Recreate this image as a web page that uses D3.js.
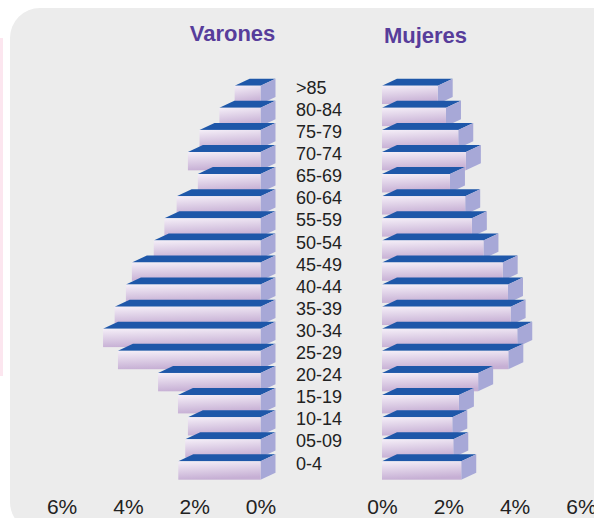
<!DOCTYPE html>
<html>
<head>
<meta charset="utf-8">
<script src="https://cdn.jsdelivr.net/npm/d3@7"></script>
<style>
    body { margin: 0; background: #fff; }
    svg { display: block; font-family: "Liberation Sans", Arial, sans-serif; }
</style>
</head>
<body>
<div id="chart"></div>
<script>

    // age groups, top to bottom
    var categories = [">85", "80-84", "75-79", "70-74", "65-69", "60-64", "55-59", "50-54", "45-49",
        "40-44", "35-39", "30-34", "25-29", "20-24", "15-19", "10-14", "05-09", "0-4"]
    // % of population
    var varones = [0.78, 1.24, 1.84, 2.19, 1.89, 2.53, 2.9, 3.22, 3.88, 4.06, 4.4, 4.75, 4.3, 3.09, 2.49, 2.19, 2.27, 2.48]
    var mujeres = [1.68, 1.93, 2.3, 2.53, 2.05, 2.51, 2.71, 3.06, 3.64, 3.8, 3.88, 4.08, 3.81, 2.9, 2.32, 2.12, 2.15, 2.39]
    var ticks = [0, 2, 4, 6]
    var titles = ["Varones", "Mujeres"]

    var width = 594, height = 518
    var depthX = 15, depthY = 7

    var svg = d3.select("#chart").append("svg")
        .attr("width", width)
        .attr("height", height)

    var defs = svg.append("defs")
    var grad = defs.append("linearGradient")
        .attr("id", "front")
        .attr("x1", 0).attr("y1", 0)
        .attr("x2", 0.2).attr("y2", 1)
    grad.append("stop").attr("offset", "0%").attr("stop-color", "#f5eff8")
    grad.append("stop").attr("offset", "100%").attr("stop-color", "#c6afd4")

    // background panel + pink strip
    svg.append("rect")
        .attr("x", 0).attr("y", 38)
        .attr("width", 3).attr("height", 338)
        .attr("fill", "#fce6ef")
    svg.append("rect")
        .attr("x", 10).attr("y", 8)
        .attr("width", 620).attr("height", 524)
        .attr("rx", 30).attr("ry", 30)
        .attr("fill", "#ececec")

    var y = d3.scaleBand()
        .domain(categories)
        .range([85.7, 479.7])
        .paddingInner(0.17)
        .paddingOuter(0)

    var xLeft = d3.scaleLinear().domain([0, 6]).range([260.5, 61.6])
    var xRight = d3.scaleLinear().domain([0, 6]).range([382, 580.9])

    var bw = y.bandwidth()

    function drawSide(values, x, isLeft) {
        var g = svg.append("g")
        var rows = g.selectAll(".bar")
            .data(categories)
            .enter()
            .append("g")
            .attr("class", "bar")

        rows.each(function(c, i) {
            var row = d3.select(this)
            var y0 = y(c)
            var a = isLeft ? x(values[i]) : x(0)
            var b = isLeft ? x(0) : x(values[i])
            // top face
            row.append("polygon")
                .attr("points", [[a, y0], [b, y0], [b + depthX, y0 - depthY], [a + depthX, y0 - depthY]].join(" "))
                .attr("fill", "#1e57a9")
            // side face
            row.append("polygon")
                .attr("points", [[b, y0], [b + depthX, y0 - depthY], [b + depthX, y0 - depthY + bw], [b, y0 + bw]].join(" "))
                .attr("fill", "#a7a8d7")
            // front face
            row.append("rect")
                .attr("x", a)
                .attr("y", y0)
                .attr("width", b - a)
                .attr("height", bw)
                .attr("fill", "url(#front)")
        })
    }

    drawSide(varones, xLeft, true)
    drawSide(mujeres, xRight, false)

    // age labels
    svg.append("g")
        .selectAll("text")
        .data(categories)
        .enter()
        .append("text")
        .attr("x", 296)
        .attr("y", function(d) { return y(d) + 8.2 })
        .attr("font-size", 18)
        .attr("fill", "#222")
        .text(function(d) { return d })

    // x axes
    var axisL = d3.axisBottom(xLeft).tickValues(ticks).tickSize(0).tickFormat(function(d) { return d + "%" })
    var axisR = d3.axisBottom(xRight).tickValues(ticks).tickSize(0).tickFormat(function(d) { return d + "%" })
    ;[axisL, axisR].forEach(function(ax) {
        var g = svg.append("g")
            .attr("transform", "translate(0,499)")
            .call(ax)
        g.select(".domain").remove()
        g.selectAll("text")
            .attr("font-family", "Liberation Sans, Arial, sans-serif")
            .attr("font-size", 21)
            .attr("fill", "#222")
            .attr("dy", "0.71em")
            .attr("y", 0)
    })

    // titles
    svg.append("text")
        .attr("x", 232.5).attr("y", 40.5)
        .attr("text-anchor", "middle")
        .attr("font-size", 22).attr("font-weight", "bold")
        .attr("fill", "#573d9b")
        .text(titles[0])
    svg.append("text")
        .attr("x", 425.5).attr("y", 42.5)
        .attr("text-anchor", "middle")
        .attr("font-size", 22).attr("font-weight", "bold")
        .attr("fill", "#573d9b")
        .text(titles[1])

</script>
</body>
</html>
